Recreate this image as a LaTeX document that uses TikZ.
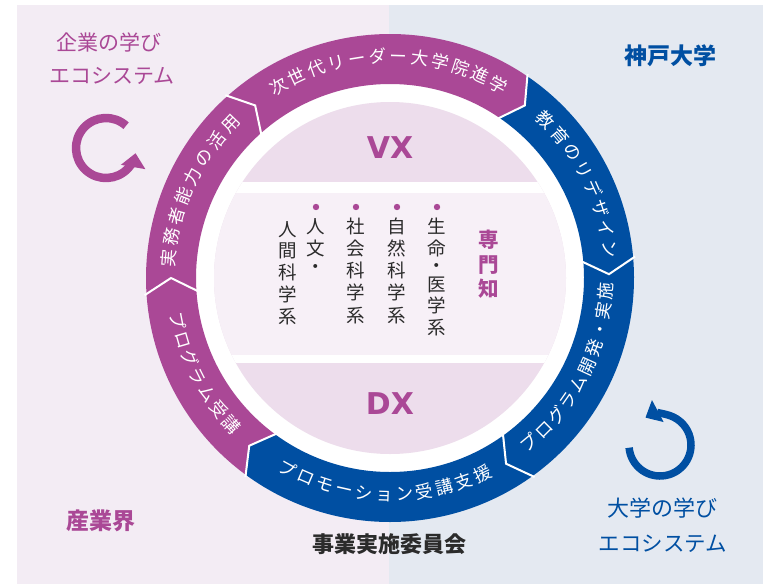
\documentclass[tikz,border=0pt]{standalone}
\usepackage{fontspec}
\newfontfamily\cjk{Noto Sans CJK JP}
\newfontfamily\dvb{DejaVu Sans}
\usetikzlibrary{arrows.meta}
\definecolor{pur}{HTML}{AA4896}
\definecolor{blu}{HTML}{004FA2}
\definecolor{bgl}{HTML}{F3ECF4}
\definecolor{bgr}{HTML}{E4E9F1}
\definecolor{band}{HTML}{EDDDEC}
\definecolor{midc}{HTML}{F7F0F7}
\definecolor{inkc}{HTML}{2B2B2B}
\tikzset{
  tightbox/.style={inner sep=0pt, text height=0.78em, text depth=0.02em},
  ringtxt/.style={tightbox, text=white, font=\cjk\fontsize{17.5}{17.5}\selectfont, text width=14pt, align=center},
  coltxt/.style={tightbox, text=inkc, font=\cjk\fontsize{18.5}{18.5}\selectfont},
  sidetxt/.style={tightbox, font=\cjk\fontsize{21}{21}\selectfont},
  sidebold/.style={tightbox, font=\cjk\bfseries\fontsize{23}{23}\selectfont},
  knowtxt/.style={tightbox, text=pur, font=\cjk\bfseries\fontsize{20.5}{20.5}\selectfont},
  bigtxt/.style={text=pur, font=\dvb\bfseries\fontsize{30}{30}\selectfont, inner sep=0pt},
  cyclearrow/.style={line width=#1, -{Triangle[length=14pt,width=24pt]}}
}
\newcommand\ringseg[3]{%
  \fill[#3] (#2:244) arc[start angle=#2, end angle=#1, radius=244]
    -- ({#1-4}:219) -- (#1:194) arc[start angle=#1, end angle=#2, radius=194]
    -- ({#2-4}:219) -- cycle;}
\newcommand\cwtext[4]{%
  \foreach \ch [count=\i from 0] in {#4} {%
    \pgfmathsetmacro\ang{#2-\i*#3}%
    \node[ringtxt, rotate=\ang-90] (#1\i) at (\ang:219) {\ch};}}
\newcommand\ccwtext[4]{%
  \foreach \ch [count=\i from 0] in {#4} {%
    \pgfmathsetmacro\ang{#2+\i*#3}%
    \node[ringtxt, rotate=\ang+90] (#1\i) at (\ang:219) {\ch};}}
\newcommand\vcol[3]{%
  \foreach \ch/\yy [count=\i] in {#3} {%
    \node[coltxt] (#1\i) at (#2,-\yy) {\ch};}}
\begin{document}
\begin{tikzpicture}[x=1pt,y=1pt]
\useasboundingbox (0,0) rectangle (763,-584);
\fill[white] (0,0) rectangle (763,-584);
\fill[bgl] (17,-5) rectangle (389,-584);
\fill[bgr] (389,-5) rectangle (763,-584);

\coordinate (C) at (390,-278);
\begin{scope}[shift={(C)}]
  \fill[white] (0,0) circle[radius=196];
  \ringseg{56}{132}{pur}
  \ringseg{132}{184}{pur}
  \ringseg{184}{234}{pur}
  \ringseg{234}{306}{blu}
  \ringseg{306}{365}{blu}
  \ringseg{5}{56}{blu}
  \foreach \t in {56,132,184,234,306,5}
    \draw[white, line width=2pt, line join=miter] (\t:246) -- ({\t-4}:219) -- (\t:192);
  \begin{scope}
    \clip (0,0) circle[radius=176];
    \fill[band] (-180,180) rectangle (180,-180);
    \fill[white] (-180,96) rectangle (180,85);
    \fill[midc] (-180,85) rectangle (180,-77);
    \fill[white] (-180,-77) rectangle (180,-85);
  \end{scope}
  \cwtext{ta}{120.7}{5.42}{次,世,代,リ,ー,ダ,ー,大,学,院,進,学}
  \cwtext{tb}{175.4}{5.56}{実,務,者,能,力,の,活,用}
  \cwtext{tc}{45.9}{5.44}{教,育,の,リ,デ,ザ,イ,ン}
  \ccwtext{td}{191}{5.22}{プ,ロ,グ,ラ,ム,受,講}
  \ccwtext{te}{241.3}{5.35}{プ,ロ,モ,ー,シ,ョ,ン,受,講,支,援}
  \ccwtext{tf}{309.7}{5.14}{プ,ロ,グ,ラ,ム,開,発,・,実,施}
\end{scope}

\node[bigtxt] (vx) at (390,-148) {VX};
\node[bigtxt] (dx) at (390,-404) {DX};

\foreach \bx in {437,397,356,316} \fill[pur] (\bx,-207) circle[radius=3.2];
\vcol{ca}{437}{生/230,命/252,・/269,医/288,学/309,系/331}
\vcol{cb}{397}{自/230,然/252,科/274,学/296,系/319}
\vcol{cc}{356}{社/230,会/252,科/274,学/296,系/319}
\vcol{cd}{316}{人/230,文/252,・/270}
\vcol{ce}{288}{人/233,間/254,科/276,学/298,系/320}
\node[knowtxt] (s1) at (489,-244) {専};
\node[knowtxt] (s2) at (489,-269) {門};
\node[knowtxt] (s3) at (489,-293) {知};

\node[sidetxt, text=pur] (k1) at (109,-47) {企業の学び};
\node[sidetxt, text=pur] (k2) at (112,-80) {エコシステム};
\node[sidebold, text=blu] (kobe) at (670,-61) {神戸大学};
\node[sidebold, text=pur] (sangyo) at (101,-526) {産業界};
\node[sidebold, text=inkc, font=\cjk\bfseries\fontsize{22}{22}\selectfont] (iin) at (389,-549) {事業実施委員会};
\node[sidetxt, text=blu, font=\cjk\fontsize{22}{22}\selectfont] (u1) at (662,-513) {大学の学び};
\node[sidetxt, text=blu, font=\cjk\fontsize{21.5}{21.5}\selectfont] (u2) at (663,-548) {エコシステム};

\coordinate (pa) at (106,-148);
\draw[pur, cyclearrow=8.5pt] ([shift={(48:30)}]pa) arc[start angle=48, end angle=350, radius=30];
\coordinate (ba) at (660,-445);
\draw[blu, cyclearrow=7.5pt] ([shift={(185:31)}]ba) arc[start angle=185, end angle=478, radius=31];
\end{tikzpicture}
\end{document}
